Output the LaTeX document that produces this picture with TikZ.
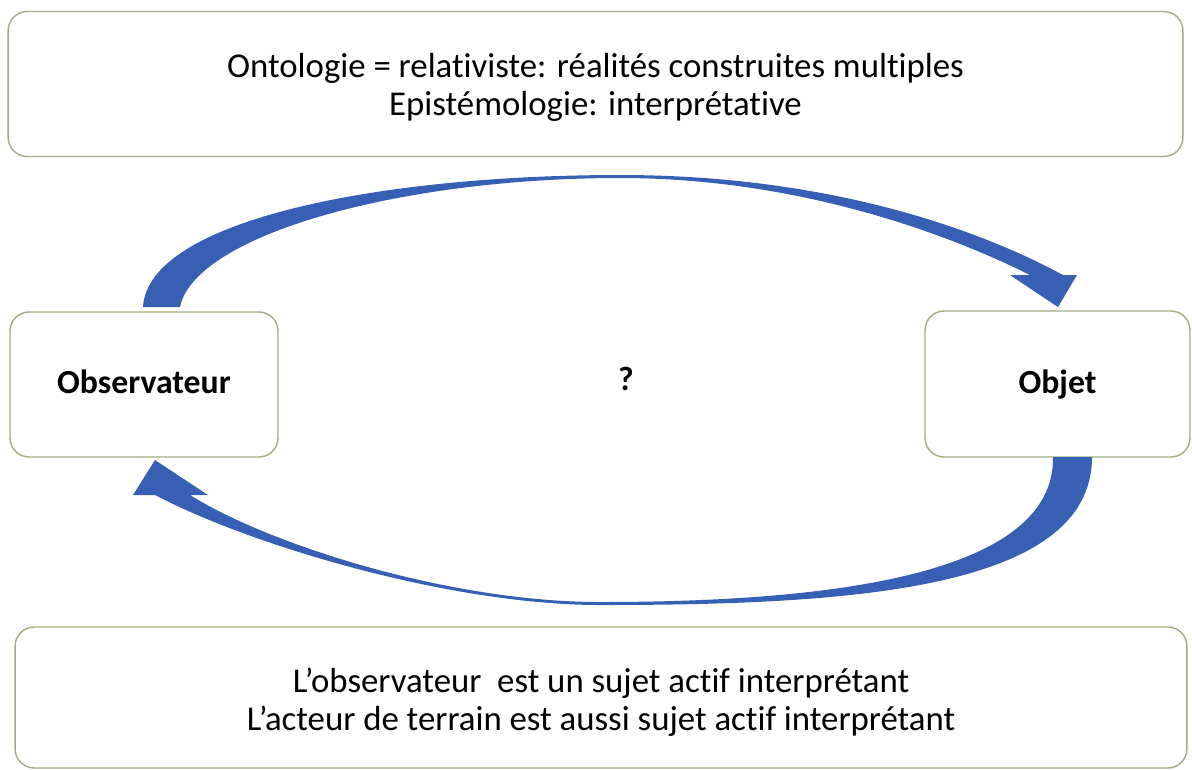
\documentclass[tikz,border=0pt]{standalone}
\usepackage{fontspec}
\setmainfont{Carlito}[Ligatures=NoCommon]
\usepackage{xcolor}
\usetikzlibrary{positioning}
\definecolor{cadreligne}{RGB}{160,172,132}
\definecolor{flechebleu}{RGB}{55,96,181}

\begin{document}
\begin{tikzpicture}[x=0.02cm,y=-0.02cm,thin]
                \tikzset{cadre/.style={draw=cadreligne, line width=0.8pt, rounded corners=0.38cm, fill=white, align=center, inner sep=0pt, font=\fontsize{19.8}{21.8}\selectfont},
                         titre/.style={font=\fontsize{19.2}{21}\selectfont\bfseries, text height=1.04em, text depth=0em},
                         fleche/.style={fill=flechebleu, draw=none}}

                \useasboundingbox (0,0) rectangle (1192,769);

                \node[cadre, minimum width=23.5cm, minimum height=2.9cm] (haut) at (595.5,84)
                        {\rule{0pt}{18pt}Ontologie = relativiste: réalités construites multiples\\Epistémologie: interprétative};
                \node[cadre, minimum width=5.36cm, minimum height=2.9cm, titre] (obs) at (144,384.5) {Observateur};
                \node[cadre, minimum width=5.3cm, minimum height=2.92cm, titre] (objet) at (1057.5,384) {Objet};
                \node[titre] (q) at (626,381) {?};
                \node[cadre, minimum width=23.44cm, minimum height=2.82cm] (bas) at (601,697.5)
                        {\rule{0pt}{19pt}L’observateur\ \ est un sujet actif interprétant\\L’acteur de terrain est aussi sujet actif interprétant};

                \path[fleche] (143,307) .. controls (148,220) and (380,175) .. (620,175)
                        .. controls (830,175) and (980,230) .. (1063,275)
                        -- (1077,275) -- (1058,307) -- (1010,275) -- (1030,275)
                        .. controls (950,235) and (800,178) .. (620,178)
                        .. controls (400,178) and (195,235) .. (180,307) -- cycle;
                \path[fleche] (1092,457) .. controls (1092,590) and (850,605) .. (600,605)
                        .. controls (450,605) and (250,545) .. (155,495)
                        -- (133,495) -- (155,460) -- (208,495) -- (190,495)
                        .. controls (270,545) and (450,602) .. (600,602)
                        .. controls (830,602) and (1055,575) .. (1053,457) -- cycle;
            \end{tikzpicture}
\end{document}
